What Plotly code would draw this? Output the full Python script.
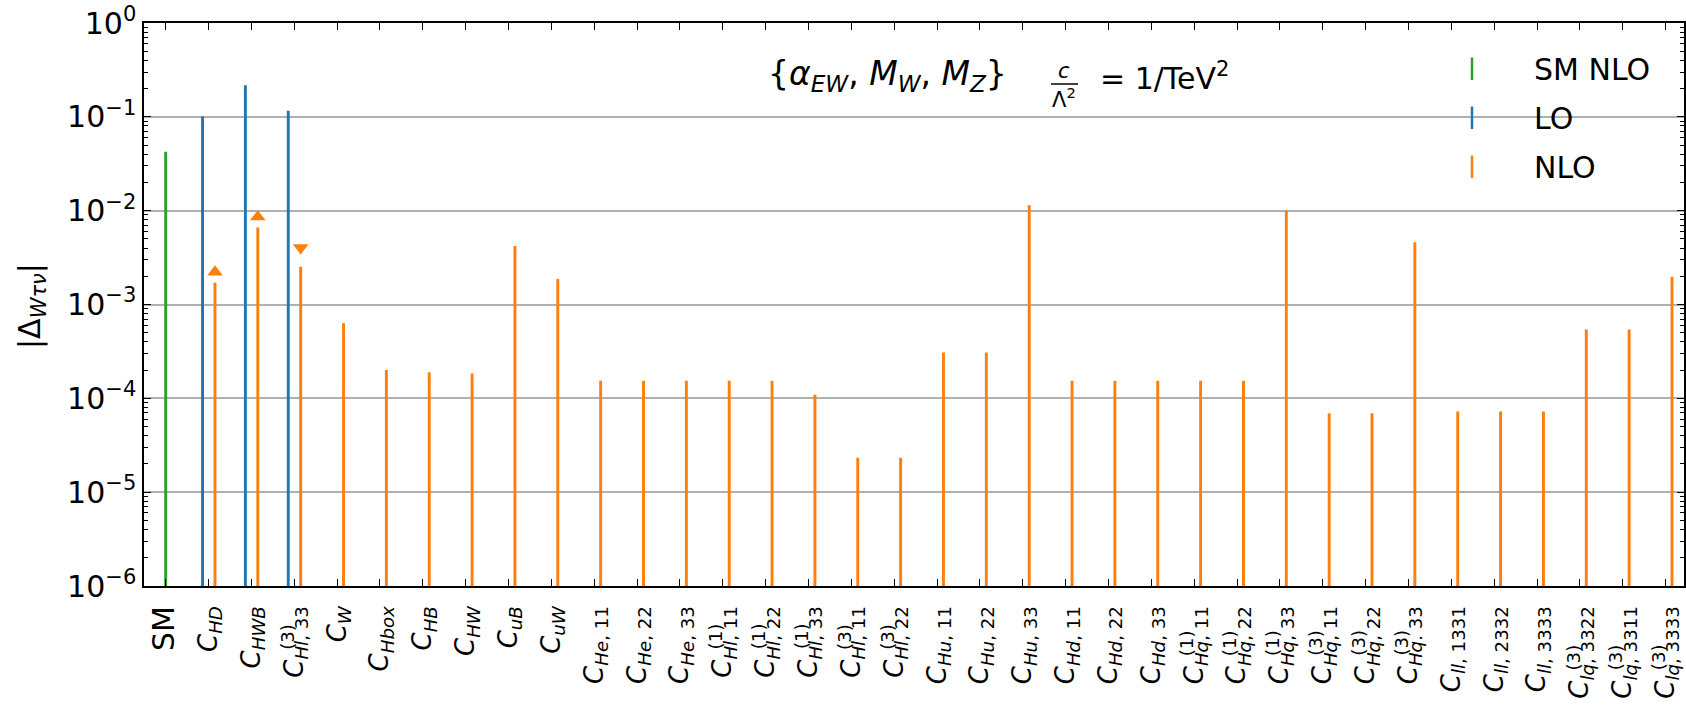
import plotly.graph_objects as go
import numpy as np

# ---------------- data ----------------
sub_italic = ["", "HD", "HWB", "Hl", "W", "Hbox", "HB", "HW", "uB", "uW",
              "He", "He", "He", "Hl", "Hl", "Hl", "Hl", "Hl",
              "Hu", "Hu", "Hu", "Hd", "Hd", "Hd",
              "Hq", "Hq", "Hq", "Hq", "Hq", "Hq",
              "ll", "ll", "ll", "lq", "lq", "lq"]
sub_plain = ["", "", "", ", 33", "", "", "", "", "", "",
             ", 11", ", 22", ", 33", ", 11", ", 22", ", 33", ", 11", ", 22",
             ", 11", ", 22", ", 33", ", 11", ", 22", ", 33",
             ", 11", ", 22", ", 33", ", 11", ", 22", ". 33",
             ", 1331", ", 2332", ", 3333", ", 3322", ", 3311", ", 3333"]
sups = ["", "", "", "(3)", "", "", "", "", "", "",
        "", "", "", "(1)", "(1)", "(1)", "(3)", "(3)",
        "", "", "", "", "", "",
        "(1)", "(1)", "(1)", "(3)", "(3)", "(3)",
        "", "", "", "(3)", "(3)", "(3)"]

sm_x = [0]
sm_y = [0.0424]
lo_x = [1, 2, 3]
lo_y = [0.101, 0.217, 0.116]
nlo_x = list(range(1, 36))
nlo_y = [0.00171, 0.00662, 0.00252, 0.00063, 0.000200, 0.000190, 0.000184,
         0.00420, 0.00187, 0.000154, 0.000154, 0.000154, 0.000154, 0.000154,
         0.000109, 0.0000232, 0.0000232, 0.000307, 0.000307, 0.0114,
         0.000154, 0.000154, 0.000154, 0.000154, 0.000154, 0.0100,
         0.0000695, 0.0000695, 0.00460, 0.0000724, 0.0000724, 0.0000724,
         0.000543, 0.000543, 0.00197]
mk_x = [1, 2, 3]
mk_y = [0.00222, 0.00857, 0.00403]
mk_sym = ["triangle-up", "triangle-up", "triangle-down"]

ytick_vals = [1e-6, 1e-5, 1e-4, 1e-3, 1e-2, 1e-1, 1e0]
ytick_text = ["10<sup>−6</sup>", "10<sup>−5</sup>", "10<sup>−4</sup>",
              "10<sup>−3</sup>", "10<sup>−2</sup>", "10<sup>−1</sup>", "10<sup>0</sup>"]

# ---------------- style ----------------
GREEN, BLUE, ORANGE = "#2ca02c", "#1f77b4", "#ff7f0e"
FONT = "DejaVu Sans"
FS = 30        # y tick labels / titles
XFS = 26       # x tick labels
W, H = 1686, 705
ML, MR, MT, MB = 144, 2, 23, 119
PW, PH = W - ML - MR, H - MT - MB
BW = 0.068
LO_OFF, NLO_OFF = -0.14, 0.15
STANDOFF = 8


def px_x(x):
    return (x - ML) / PW


def px_y(y):
    return (H - MB - y) / PH


ticktext = []
for i in range(len(sub_italic)):
    if i == 0:
        ticktext.append('<span style="font-size:30px">SM</span>')
    else:
        ticktext.append("<i>C</i><sub><i>%s</i>%s</sub>" % (sub_italic[i], sub_plain[i]))

fig = go.Figure()
fig.add_trace(go.Bar(x=sm_x, y=sm_y, width=BW, offset=-BW / 2,
                     marker=dict(color=GREEN, line=dict(width=0)), showlegend=False))
fig.add_trace(go.Bar(x=lo_x, y=lo_y, width=BW, offset=LO_OFF - BW / 2,
                     marker=dict(color=BLUE, line=dict(width=0)), showlegend=False))
fig.add_trace(go.Bar(x=nlo_x, y=nlo_y, width=BW, offset=NLO_OFF - BW / 2,
                     marker=dict(color=ORANGE, line=dict(width=0)), showlegend=False))
fig.add_trace(go.Scatter(x=np.array(mk_x) + NLO_OFF, y=mk_y, mode="markers",
                         marker=dict(symbol=mk_sym, size=13.5, color=ORANGE),
                         showlegend=False))

for name, col, grp in [("SM NLO", GREEN, "a"), ("LO", BLUE, "b"), ("NLO", ORANGE, "c")]:
    fig.add_trace(go.Scatter(x=[None], y=[None], mode="markers", name=name,
                             legendgroup=grp,
                             marker=dict(symbol="line-ns", size=30,
                                         line=dict(width=2.5, color=col))))

fig.update_layout(
    width=W, height=H,
    margin=dict(l=ML, r=MR, t=MT, b=MB, pad=0, autoexpand=False),
    plot_bgcolor="white", paper_bgcolor="white",
    barmode="overlay",
    font=dict(family=FONT, size=FS, color="black"),
    legend=dict(x=px_x(1410), xanchor="left", y=0.965, yanchor="top",
                bgcolor="rgba(0,0,0,0)", font=dict(size=FS),
                tracegroupgap=7, itemwidth=114),
)
fig.update_xaxes(
    range=[-0.506, 35.43], tickmode="array", tickvals=list(range(len(ticktext))),
    ticktext=ticktext, tickangle=-90, ticks="inside", ticklen=7, tickwidth=1,
    tickcolor="black", showline=True, linecolor="black", linewidth=1.5,
    mirror="ticks", showgrid=False, zeroline=False, ticklabelstandoff=STANDOFF,
    tickfont=dict(size=XFS), automargin=False,
)
minor_vals = [k * 10.0 ** e for e in range(-6, 0) for k in range(2, 10)]
fig.update_yaxes(
    type="log", range=[-6, 0], tickmode="array", tickvals=ytick_vals,
    ticktext=ytick_text, ticks="inside", ticklen=7, tickwidth=1,
    tickcolor="black", showline=True, linecolor="black", linewidth=1.5,
    mirror="ticks", showgrid=True, gridcolor="#b0b0b0", gridwidth=1.5,
    zeroline=False, tickfont=dict(size=FS), automargin=False,
    minor=dict(ticks="inside", ticklen=4, tickwidth=1, tickcolor="black",
               tickmode="array", tickvals=minor_vals, showgrid=False),
)

# superscripts of the x tick labels (stacked above the subscript)
CW = {"H": .752, "l": .278, "q": .635, "e": .615, "u": .634, "d": .635,
      ",": .318, ".": .318, " ": .318}
for d in "0123456789":
    CW[d] = .636
y_top = H - MB + STANDOFF + 3
for i, s in enumerate(sups):
    if not s:
        continue
    sub_w = sum(CW.get(c, .63) for c in sub_italic[i] + sub_plain[i]) * XFS * 0.7
    fig.add_annotation(x=i - 0.16, xref="x", y=px_y(y_top + sub_w), yref="paper",
                       text=s, showarrow=False, textangle=-90, xanchor="center",
                       yanchor="bottom", borderpad=0, font=dict(size=XFS * 0.7))

# y axis title
fig.add_annotation(x=px_x(32), y=px_y(306), xref="paper", yref="paper",
                   text="|Δ<sub><i>Wτν</i></sub>|", showarrow=False, textangle=-90,
                   font=dict(size=FS), xanchor="center", yanchor="middle")

# header text
fig.add_annotation(x=px_x(887), y=px_y(75), xref="paper", yref="paper",
                   text="{<i>α</i><sub><i>EW</i></sub>, <i>M</i><sub><i>W</i></sub>, <i>M</i><sub><i>Z</i></sub>}",
                   showarrow=False, font=dict(size=33), xanchor="center", yanchor="middle")
fig.add_annotation(x=px_x(1064), y=px_y(71), xref="paper", yref="paper",
                   text="<i>c</i>", showarrow=False, font=dict(size=21),
                   xanchor="center", yanchor="middle")
fig.add_annotation(x=px_x(1064), y=px_y(98), xref="paper", yref="paper",
                   text="Λ<sup>2</sup>", showarrow=False, font=dict(size=21),
                   xanchor="center", yanchor="middle")
fig.add_shape(type="line", xref="paper", yref="paper", x0=px_x(1051), x1=px_x(1078),
              y0=px_y(84), y1=px_y(84), line=dict(color="black", width=1.5))
fig.add_annotation(x=px_x(1098), y=px_y(77), xref="paper", yref="paper",
                   text="= 1/TeV<sup>2</sup>", showarrow=False, font=dict(size=30),
                   xanchor="left", yanchor="middle")

fig.write_html("out.html", config={"displayModeBar": False},
               post_script="document.body.style.margin='0px';"
                           "document.body.style.overflow='hidden';")
